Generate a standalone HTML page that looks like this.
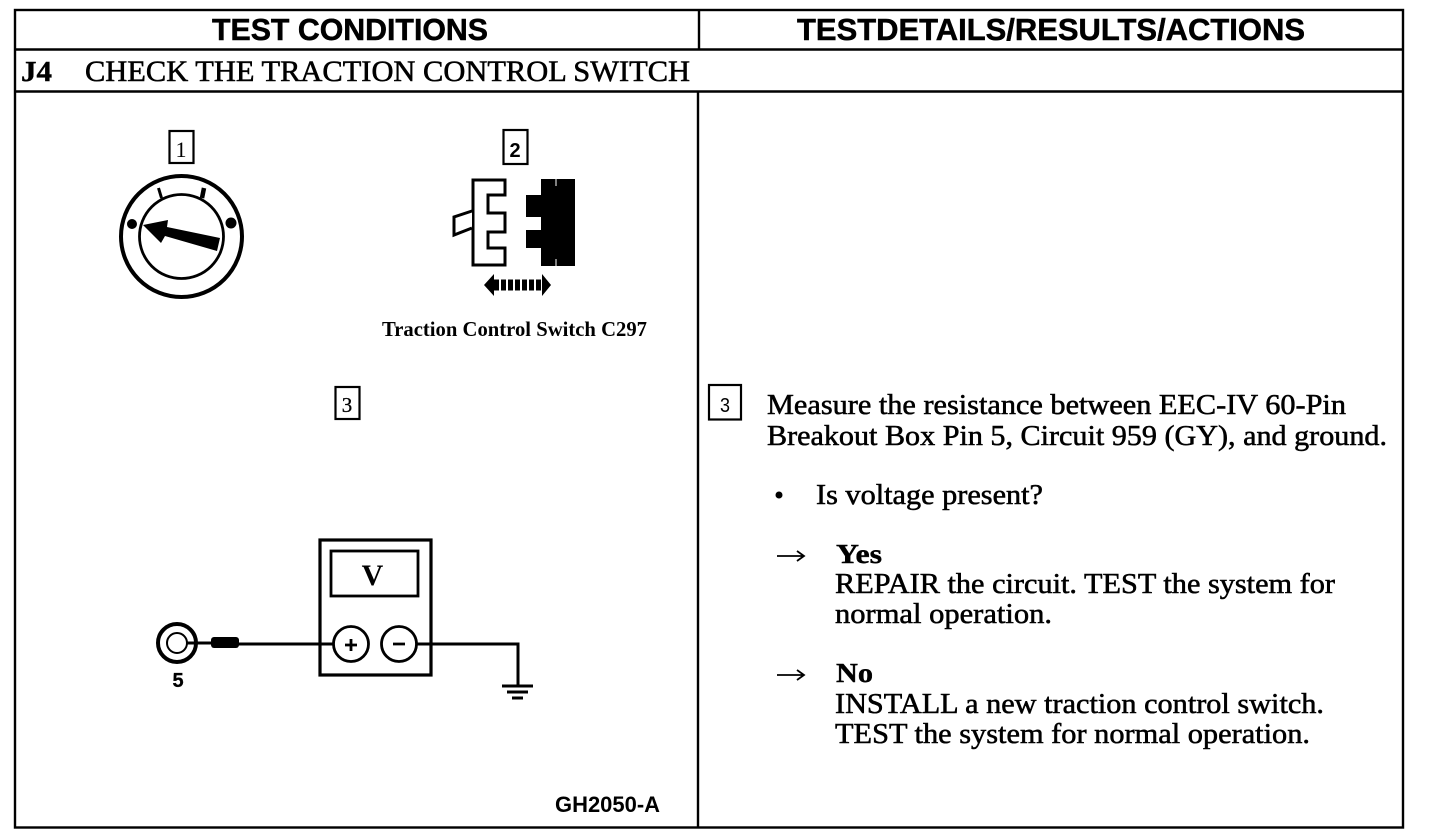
<!DOCTYPE html>
<html><head><meta charset="utf-8"><style>
html,body{margin:0;padding:0;background:#fff;width:1456px;height:834px;overflow:hidden}
svg{display:block}
.h{font:bold 31px "Liberation Sans",sans-serif}
.s{font:29px "Liberation Serif",serif;stroke:#000;stroke-width:.55px}
.b{font:bold 29px "Liberation Serif",serif;stroke:#000;stroke-width:.4px}
</style></head><body>
<svg width="1456" height="834" viewBox="0 0 1456 834" xmlns="http://www.w3.org/2000/svg">
<g fill="none" stroke="#000" stroke-width="2.4">
<rect x="15" y="10" width="1388" height="817.5"/>
<path d="M15 49.5H1403M15 91.5H1403M699 10V49.5M698 91.5V827.5"/>
</g>
<text class="h" x="212" y="40" textLength="276" lengthAdjust="spacingAndGlyphs" stroke="#000" stroke-width=".5">TEST CONDITIONS</text>
<text class="h" x="797" y="40" textLength="508" lengthAdjust="spacingAndGlyphs" stroke="#000" stroke-width=".5">TESTDETAILS/RESULTS/ACTIONS</text>
<text class="b" x="21" y="81" textLength="31" lengthAdjust="spacingAndGlyphs">J4</text>
<text class="s" x="85" y="81" textLength="605" lengthAdjust="spacingAndGlyphs" style="font-size:30px">CHECK THE TRACTION CONTROL SWITCH</text>

<!-- step boxes -->
<g fill="#fff" stroke="#000" stroke-width="2.200">
<rect x="169.500" y="131" width="24" height="32"/>
<rect x="503.500" y="130" width="24" height="34"/>
<rect x="335.500" y="387" width="24" height="32"/>
<rect x="709" y="385" width="32" height="34.500"/>
</g>
<text x="181" y="157" text-anchor="middle" style="font:22px 'Liberation Serif',serif">1</text>
<text x="515" y="157" text-anchor="middle" style="font:bold 20px 'Liberation Sans',sans-serif">2</text>
<text x="347" y="412" text-anchor="middle" style="font:21px 'Liberation Serif',serif" stroke="#000" stroke-width=".3">3</text>
<text x="725" y="412" text-anchor="middle" style="font:20px 'Liberation Sans',sans-serif" textLength="10" lengthAdjust="spacingAndGlyphs">3</text>

<!-- ignition dial -->
<circle cx="181.500" cy="236.500" r="60.500" fill="none" stroke="#000" stroke-width="4"/>
<circle cx="181.500" cy="236.500" r="42" fill="none" stroke="#000" stroke-width="2.800"/>
<polygon points="143,225 168,220 167,227 220,238 217,251 165,236 161,243" fill="#000"/>
<g fill="#000" stroke="#000">
<circle cx="132" cy="224" r="4.500" stroke-width="1"/>
<path d="M158.500 188L161.500 198" stroke-width="3"/>
<path d="M204 188L202 198" stroke-width="4.500"/>
<circle cx="231" cy="223" r="5" stroke-width="1"/>
</g>

<!-- connector -->
<path d="M473 180H505V195H488V213H505V232H488V248H505V265H473Z" fill="#fff" stroke="#000" stroke-width="3"/>
<path d="M472 211L454 217V235L472 228" fill="#fff" stroke="#000" stroke-width="3"/>
<path d="M541 179H575V266H541V248H526V230H541V217H526V195H541Z" fill="#000"/>
<path d="M556 179V186M556 259V266" stroke="#fff" stroke-width="1"/>
<path d="M484 285L494 274V296Z M551 285L542 274V296Z" fill="#000"/>
<path d="M494 285H542" stroke="#000" stroke-width="11" stroke-dasharray="5 2" fill="none"/>
<text x="382" y="336" textLength="265" lengthAdjust="spacingAndGlyphs" style="font:bold 21px 'Liberation Serif',serif">Traction Control Switch C297</text>

<!-- meter -->
<rect x="320" y="540" width="111" height="135" fill="#fff" stroke="#000" stroke-width="3.200"/>
<rect x="331" y="551" width="87" height="45" fill="none" stroke="#000" stroke-width="2.800"/>
<text x="372.500" y="585" text-anchor="middle" style="font:bold 30px 'Liberation Serif',serif">V</text>
<circle cx="177" cy="643" r="19" fill="none" stroke="#000" stroke-width="4"/>
<circle cx="177" cy="643" r="10" fill="none" stroke="#000" stroke-width="2"/>
<path d="M187 643H212M238 644H334M416 644H518V686" fill="none" stroke="#000" stroke-width="3"/>
<rect x="211" y="637" width="28" height="11" rx="3" fill="#000"/>
<circle cx="351" cy="644" r="17.500" fill="#fff" stroke="#000" stroke-width="2.800"/>
<circle cx="399" cy="644" r="17.500" fill="#fff" stroke="#000" stroke-width="2.800"/>
<path d="M345 645H357M351 639V651M393 644H405" stroke="#000" stroke-width="2.800"/>
<path d="M502 686H533M507 692H528M512 698H523" stroke="#000" stroke-width="3"/>
<text x="178" y="687" text-anchor="middle" stroke="#000" stroke-width=".3" style="font:bold 20px 'Liberation Sans',sans-serif">5</text>
<text x="555" y="812" textLength="105" lengthAdjust="spacingAndGlyphs" style="font:bold 22px 'Liberation Sans',sans-serif">GH2050-A</text>

<!-- right column text -->
<text class="s" x="767" y="414" textLength="579" lengthAdjust="spacingAndGlyphs">Measure the resistance between EEC-IV 60-Pin</text>
<text class="s" x="767" y="445" textLength="620" lengthAdjust="spacingAndGlyphs">Breakout Box Pin 5, Circuit 959 (GY), and ground.</text>
<circle cx="779" cy="495" r="3.500" fill="#000"/>
<text class="s" x="816" y="504" textLength="227" lengthAdjust="spacingAndGlyphs">Is voltage present?</text>
<path d="M777 556H803M797 551L804 556L797 561" fill="none" stroke="#000" stroke-width="1.800"/>
<text class="b" x="836" y="563" textLength="46" lengthAdjust="spacingAndGlyphs" style="font-size:27px">Yes</text>
<text class="s" x="835" y="593" textLength="500" lengthAdjust="spacingAndGlyphs">REPAIR the circuit. TEST the system for</text>
<text class="s" x="835" y="623" textLength="217" lengthAdjust="spacingAndGlyphs">normal operation.</text>
<path d="M777 675H803M797 670L804 675L797 680" fill="none" stroke="#000" stroke-width="1.800"/>
<text class="b" x="836" y="682" textLength="37" lengthAdjust="spacingAndGlyphs" style="font-size:27px">No</text>
<text class="s" x="835" y="713" textLength="489" lengthAdjust="spacingAndGlyphs">INSTALL a new traction control switch.</text>
<text class="s" x="835" y="743" textLength="475" lengthAdjust="spacingAndGlyphs">TEST the system for normal operation.</text>
</svg>
</body></html>
